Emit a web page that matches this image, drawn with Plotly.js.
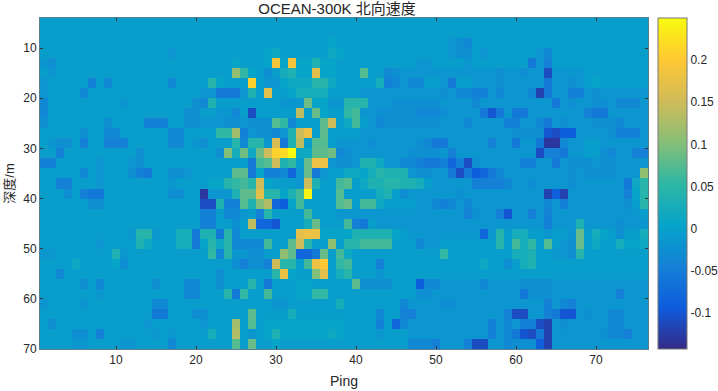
<!DOCTYPE html>
<html><head><meta charset="utf-8">
<script src="https://cdn.plot.ly/plotly-3.0.1.min.js"></script>
<style>html,body{margin:0;padding:0;background:#fff}#c{width:718px;height:391px}</style>
</head><body><div id="c"></div>
<script>
const pings=[];for(let i=1;i<=76;i++)pings.push(i);
const depths=[5,7,9,11,13,15,17,19,21,23,25,27,29,31,33,35,37,39,41,43,45,47,49,51,53,55,57,59,61,63,65,67,69];
// velocity in hundredths of m/s: one row per depth bin
const velocityRows=[
[-2,-2,-2,-2,-2,-2,-2,-2,-2,-2, -2,-2,-2,-2,-2,-2,-2,-2,-2,-2, -2,-2,-2,-2,-2,-2,-2,-2,-2,-2, -2,-2,-2,-2,-2,-2,-2,-2,-2,-2, -2,-2,-2,-2,-2,-2,-2,-2,-2,-2, -2,-2,-2,-2,-2,-2,-2,-2,-2,-2, -2,-2,-2,-2,-2,-2,-2,-2,-2,-2, -2,-2,-2,-2,-2,-2],
[-2,-2,-2,-2,-2,-2,-2,-2,-2,-2, -2,-2,-2,-2,-2,-2,-2,-2,-2,-2, -2,-2,-2,-2,-2,-2,-2,-2,-2,-2, -2,-2,-2,-2,-2,-2,-2,-2,-2,-2, -2,-2,-2,-2,-2,-2,-2,-2,-2,-2, -2,-2,-2,-2,-2,-2,-2,-2,-2,-2, -2,-2,-2,-2,-2,-2,-2,-2,-2,-2, -2,-2,-2,-2,-2,-2],
[-2,-2,-2,-2,-2,-2,-2,-2,-2,-2, -2,-2,-2,-2,-2,-2,-2,-2,-2,-2, -2,-2,-2,-2,-2,-2,-2,-2,-2,-2, -2,-2,-2,-2,-2,-2,-1,-2,-2,-2, -2,-2,-2,-2,-2,-2,-2,-2,-2,-2, -2,-3,-4,-5,-2,-2,-2,-2,-2,-2, -2,-2,-2,-2,-2,-2,-2,-2,-2,-2, -2,-2,-2,-2,-2,-2],
[-2,-2,-2,-2,-2,-2,-2,-2,-2,-2, -2,-2,-2,-2,-2,-2,-3,-2,-2,-2, -2,-2,-2,-2,-2,-2,-2,-2,-1,0, -2,-2,-2,-2,-2,-2,0,-1,-2,-2, -2,-2,-2,-2,-2,-2,-2,-2,-2,-2, -2,-3,-4,-4,-2,-3,-2,-2,-2,-2, -2,-2,-3,-5,-2,-2,-2,-2,-2,-2, -2,-2,-2,-2,-2,-2],
[-3,-4,-2,-2,-2,-2,-2,-2,-2,-2, -2,-2,-2,-2,-2,-2,-2,-2,-2,-2, -2,-2,-2,-2,-1,-2,-2,-2,-1,19, -1,19,-1,-1,2,-1,-1,-2,-2,-2, -2,-2,-2,-2,-2,-2,-2,-3,-3,-2, -2,-2,-2,-3,-2,-2,-2,-2,-2,-2, -2,-7,-3,-6,-2,-2,-2,-2,-2,-2, -2,-2,-2,-2,-2,-2],
[-2,-3,-2,-2,-2,-2,-2,-2,-2,-2, -2,-2,-2,-2,-2,-2,-2,-2,-2,-2, -2,-2,-2,-2,11,4,-1,-2,-4,-2, 1,2,-1,-1,17,-1,-1,-2,-2,-2, 6,-2,-2,-5,-4,-3,-3,-3,-3,-3, -3,-3,-3,-3,-3,-3,-3,-4,-3,-3, -4,-3,-3,-11,-3,-3,-3,-3,-2,-2, -2,-2,-2,-2,-2,-2],
[-3,-2,-2,-2,-2,-2,-6,-2,-5,-2, -2,-2,-2,-2,-2,-2,-5,-2,-2,-2, -2,3,-1,-2,-2,-2,21,-2,-3,-3, -1,0,0,0,3,3,0,-2,-2,-2, -2,-2,1,-6,-5,-3,-5,-5,-2,-2, -3,-7,-2,-2,-3,-3,-3,-4,-3,-3, -3,-3,-3,-7,-3,-3,-4,-3,-2,-1, -2,-2,-2,-2,-2,-2],
[-3,-2,-2,-2,-2,-5,-2,-2,-2,-2, -2,-2,-2,-2,-2,-2,-2,-2,-2,-2, -3,-3,-7,-7,-7,-3,2,-2,17,-2, -2,-1,1,1,1,1,-2,-2,-2,-2, -3,-3,-3,-3,-3,-3,-3,-3,-3,-3, -4,-3,-5,-5,-6,-6,-3,-5,-3,-3, -3,-5,-12,-7,-3,-3,-6,-6,-3,-4, -3,-3,-3,-3,-3,-3],
[-5,-2,-2,-2,-2,-2,-2,-2,-2,-2, -3,-2,-2,-2,-2,-2,-2,-2,-2,-4, -5,2,-2,-2,-2,-2,-2,-2,-2,-2, -3,-3,-3,9,-1,-1,-3,-3,3,3, 3,-3,-3,-3,-4,-4,-4,-4,-4,-4, -3,-3,-3,-3,-5,-3,-3,-3,-3,-3, -3,-3,-3,-3,-7,-3,-4,-3,-3,-4, -4,-3,-5,-5,-5,-3],
[-5,-2,-2,-2,-2,-2,-2,-2,-2,-2, -2,-2,-2,-2,-2,-2,-2,-2,-4,-4, -2,-2,-3,-3,-5,-2,-11,-2,-2,-2, -2,-2,14,-2,7,-1,-2,-2,4,5, -3,-3,-4,-4,-4,-4,-4,-5,-5,-5, -4,-3,-3,-3,-3,-7,-10,-7,-3,-7, -7,-3,-3,-3,-3,-3,-3,-3,-6,-7, -7,-3,-3,-3,-3,-3],
[-4,-2,-2,-2,-2,-2,-2,-2,-4,-2, -2,-2,-2,-6,-6,-6,-2,-2,-4,-4, -3,-3,-3,-4,-4,-3,-4,-4,-4,6, 4,-5,-2,-2,-2,8,15,-2,0,5, -2,-3,-5,-4,-4,-4,-4,-4,-4,-4, -3,-3,-3,-5,-3,-3,-3,-3,-6,-6, -3,-3,-5,-7,-3,-4,-3,-3,-3,-4, -4,-4,-5,-3,-3,-3],
[-2,-2,-2,-2,-2,-4,-2,-2,-5,-5, -2,-2,-2,-2,-2,-2,-5,-5,-2,-2, -2,-2,4,4,12,-6,-3,-4,-4,-5, -3,2,15,18,-2,8,-2,-2,-2,-2, -3,-3,-3,-3,-3,-3,-3,-3,-3,-3, -3,-3,-3,-3,-3,-3,-3,-3,-3,-4, -4,-4,-4,-10,-11,-9,-9,-3,-3,-3, -3,-4,-6,-6,-6,-3],
[-2,-3,-4,-4,-2,-6,-2,-2,-6,-6, -6,-2,-2,-2,-2,-2,-5,-5,-2,-3, -4,-2,-2,-2,3,-5,3,3,-3,16, -7,2,14,-2,6,6,-2,-3,-3,-3, -3,-4,-3,-3,-3,-3,-3,-4,-5,-7, -7,-3,-3,-3,-3,-3,-6,-3,-3,-7, -3,-3,-7,-13,-13,-5,-3,-3,-2,-2, -3,-3,-3,-3,-3,-3],
[-2,-2,-6,-2,-2,-2,-2,-2,-2,-2, -2,-2,-4,-2,-2,-2,-2,-2,-2,-2, -2,-2,-4,10,1,9,0,9,15,21, 22,25,0,0,8,8,9,-5,-4,-3, -3,-3,-3,-3,-3,-3,-4,-4,-4,-4, -3,-6,-3,-3,-3,-3,-3,-3,-3,-3, -3,-3,-11,-6,-6,-7,-3,-3,-2,-2, -4,-5,-3,-3,-6,-6],
[-6,-6,-2,-2,-2,-2,-2,-3,-2,-2, -2,-3,-4,-2,-2,-2,-2,-2,-2,-2, -2,-2,-2,-2,-2,-2,-7,5,6,15, 2,4,-2,7,18,18,-3,-4,-4,-3, 2,2,0,-3,-3,-5,-5,-6,-7,-7, -6,-8,-6,-11,-4,-3,-3,-3,-3,-3, -6,-6,-3,-3,-7,-3,-4,-4,-4,-3, -4,-4,-3,-3,-3,-3],
[-2,-2,-2,-2,-2,-5,-2,-3,-2,-2, -2,-4,-6,-7,-2,-2,-4,-4,-3,-2, -2,-2,-2,-2,8,8,-7,-1,-6,-6, -5,-8,-3,7,-7,-3,-2,-2,0,0, -1,1,3,2,2,2,-3,-4,-4,-3, -3,-7,-11,-7,-9,-8,-7,-5,-3,-3, -3,-3,-3,-3,-3,-3,-4,-3,-4,-4, -4,-4,-3,-3,-3,11],
[-2,-2,-6,-6,-2,-2,-2,-3,-2,-2, -2,-2,-2,-2,-2,-2,-3,-2,-2,-2, -2,-1,-1,3,4,5,3,15,-1,-2, -2,-2,-3,15,2,-2,-2,5,6,-2, 0,2,2,3,3,2,2,1,-2,-3, -3,-3,-3,-3,-6,-6,-6,-6,-5,-3, -3,-4,-3,-3,-3,-3,-4,-3,-3,-3, -3,-3,-3,-7,0,3],
[-2,-2,-2,-4,-2,-6,-7,-7,-2,-2, -2,-2,-2,-2,-2,-2,-4,-4,-2,-2, -13,-3,-3,-3,2,8,8,17,3,3, -1,2,5,24,-2,-2,-2,6,-2,-2, -2,-2,1,2,-2,-4,-3,-3,-3,-3, -3,-3,-4,-3,-3,-3,-3,-3,-3,-3, -3,-3,-3,-12,-9,-12,-3,-3,-3,-3, -3,-3,-3,-6,-1,3],
[-2,-2,-2,-2,-2,-2,-4,-4,-2,-2, -2,-2,-2,-2,-2,-2,-2,-2,-2,-2, -11,-11,2,-6,-6,6,2,10,13,-8, -9,-1,5,-2,-2,-2,-2,6,7,-2, 5,5,0,-2,-2,-2,-2,-3,-3,-5, -6,-5,-3,-5,-3,-3,-3,-3,-3,-3, -3,-3,-3,-5,-3,-6,-3,-3,-3,-3, -3,-3,-3,-4,-2,3],
[-2,-2,-2,-2,-2,-2,-2,-2,-2,-2, -2,-2,-2,-2,-2,-2,-2,-2,-2,-2, -6,-6,-2,-5,-5,-3,-2,-6,3,-2, -2,-2,-2,5,-2,-2,-2,-3,-3,-3, -3,-3,-3,-3,-3,-3,-3,-3,-3,-3, -3,-3,-3,-6,-4,-3,-3,-6,-10,-3, -3,-6,-3,-6,-3,-3,-3,-3,-3,-3, -3,-3,-3,-3,-3,-2],
[-2,-2,-2,-2,-2,-2,-2,-2,-2,-2, -2,-2,-2,-2,-2,-2,-2,-2,-2,-2, -6,-6,-2,-2,-4,-2,14,-8,-8,-10, -2,-2,-2,1,7,-2,-2,-2,5,-6, -7,-2,-3,-3,-3,-3,-3,-3,-3,-3, -3,-3,-3,-3,-3,-3,-3,-3,-3,-3, -3,-3,-3,-6,-3,-3,-3,2,-3,-3, -3,-3,-4,-3,-3,-3],
[-2,-2,-2,-2,-2,-2,-2,-2,-2,-2, -2,-3,3,3,-3,-2,-2,1,1,-7, 2,2,-7,3,-5,-2,-2,-2,-2,-2, -2,-2,17,18,18,-1,-1,-1,-1,2, 2,2,2,2,-1,-2,-3,-3,-3,-3, -3,-3,-3,-3,-3,-8,-3,3,-2,1, 1,-2,-2,-3,-2,-2,-3,7,-2,1, -1,-2,-4,-2,-2,1],
[-2,-2,-2,-2,-2,-2,-2,-3,-2,-2, -2,-2,2,0,-2,-2,-2,1,1,-7, -1,3,0,3,-5,-5,-5,-5,5,-2, -2,8,15,3,-2,-2,11,-2,3,3, 5,5,5,5,-2,-2,-2,-5,-3,-3, -2,-2,-2,-2,-2,-2,-2,3,-2,5, 1,4,-2,6,-2,-3,-4,7,-2,0, -2,-2,1,-1,-1,0],
[-3,-3,-2,-2,-2,-2,-2,-2,-2,2, -3,-2,-2,-2,-2,-2,-2,-2,-2,-2, -2,4,-5,3,-3,-3,-4,-4,-2,-2, 11,8,-8,-8,-7,7,-2,5,0,-2, -2,-2,-2,-2,-2,-2,-2,-2,-2,-2, 4,-2,-2,-2,-2,-2,-2,-2,-2,1, 1,2,-2,-2,-3,-3,-4,3,-2,-2, -2,-2,-2,-2,-2,-2],
[-2,-2,-2,-2,0,-2,-2,-2,-2,-1, -4,-2,-2,-2,-2,-2,-2,-2,-2,-2, -2,-2,-2,-2,-4,-6,-4,-4,-6,15, 3,3,-2,5,18,20,-2,4,5,-2, -2,-2,-6,-2,-2,-2,-2,-2,-2,-2, -2,-2,-2,-2,-2,0,-2,-2,-4,-2, 1,2,-2,-2,-2,-2,-2,-2,-2,-2, -2,-2,-2,-2,-2,-2],
[-2,-2,-5,-2,-2,-2,-2,-2,-2,-2, -2,-2,-2,-2,-2,-2,-2,-2,-2,-2, -2,-2,-4,-2,-2,-2,-2,-2,-2,3, 18,-1,-2,-2,10,17,-2,1,3,-2, -2,-2,-3,-2,-2,-2,-2,-2,-2,-2, -2,-2,-2,-2,-2,-2,-2,-2,-2,-2, -2,-2,-2,-2,-2,-2,-2,-2,-2,-2, -2,-2,-2,-2,-2,-2],
[-2,-2,-2,-2,-2,-4,-2,-5,-2,-2, -2,-2,-2,-2,-4,-2,-2,-2,-5,-5, -2,-2,-4,-2,-2,-2,3,-2,-7,-2, -2,-2,-1,-1,-2,-2,-2,-2,-2,8, -4,-4,-4,-4,-2,-2,-2,-9,-5,-5, -3,-3,-3,-3,-3,-5,-3,-3,-3,-3, -4,-4,-4,-4,-3,-3,-3,-3,-3,-3, -3,-3,-3,-3,-3,-3],
[-2,-2,-2,-2,-2,-2,-2,-3,-2,-2, -2,-2,-2,-2,-2,-2,-2,-2,-5,-5, -2,-2,-2,3,-7,4,-2,-2,5,-2, -2,-2,-1,-1,4,4,-2,-2,-2,-2, -2,-2,-2,-2,-2,-2,-2,-4,-4,-3, -3,-3,-3,-3,-3,-3,-3,-3,-3,-3, -7,-4,-4,-4,-3,-3,-3,-3,-3,-3, -3,-3,-6,-3,-3,-3],
[-3,-2,-2,-2,-2,-3,-2,-2,-2,-2, -2,-2,-2,-2,-5,-5,-2,-2,-2,-2, -2,-2,-2,-2,-2,-2,-2,-2,-2,-3, -3,-2,-2,-2,-2,-2,-2,1,-2,-2, -2,-2,-2,-2,-2,-5,-3,-3,-3,-3, -4,-4,-3,-3,-3,-3,-3,-3,-3,-3, -3,-3,-3,-6,-3,-5,-6,-3,-3,-3, -3,-3,-3,-3,-3,-3],
[-2,-2,-2,-2,-2,-2,-2,-2,-2,-2, -2,-2,-2,-2,-7,-7,-2,-2,-2,-4, -4,-2,-2,-2,-2,-2,8,-2,-2,-2, -2,1,-2,-2,-2,-2,-2,-2,-2,-2, -2,-2,-5,-2,-2,-6,-6,-3,-3,-3, -3,-3,-3,-3,-3,-3,-3,-3,-6,-11, -11,-3,-3,-6,-7,-10,-10,-3,-4,-3, -3,-5,-5,-3,-3,-3],
[-2,-4,-2,-2,-2,-2,-2,-2,-2,-2, -2,-2,-2,-3,-2,-2,-2,-2,-2,-2, -3,-2,-2,-2,12,-2,6,-2,-1,-1, -1,-1,-1,-1,-1,-1,-1,-1,-2,-2, -2,-2,-6,-2,-8,-5,-3,-3,-3,-3, -3,-3,-3,-3,-3,-3,-6,-3,-5,-3, -6,-6,-11,-12,-3,-4,-3,-3,-3,-3, -3,-5,-5,-3,-3,-3],
[-2,-2,-2,-2,-4,-4,-2,-6,-2,-2, -2,-2,-2,-2,-3,-2,-3,-2,-2,-2, -2,1,-2,-2,13,-2,-3,-2,-1,2, -1,-1,-1,-1,-1,-1,0,-1,-2,-2, -2,-2,-3,-2,-2,-2,-3,-3,-3,-3, -3,-3,-3,-3,-3,-3,-6,-3,-5,-7, -10,-11,-7,-12,-3,-3,-3,-3,-3,-3, -4,-5,-5,-6,-3,-3],
[-2,-2,-2,-2,-3,-3,-2,-2,-2,-2, -3,-3,-2,-2,-2,-2,-5,-2,-2,-2, -2,-2,-2,-2,6,-2,7,-2,-2,-1, -2,-2,-2,-2,-2,-2,-2,-2,-2,-2, -2,-2,-2,-2,-2,-2,-5,-5,-5,-6, -3,-3,-3,-6,-11,-11,-3,-3,-5,-4, -4,-4,-9,-12,-3,-3,-3,-3,-3,-3, -3,-3,-3,-3,-3,-3]
];
const parula=['#352a87','#0f5cdd','#1481d6','#06a4ca','#2eb7a4','#87bf77','#d1bb59','#fec832','#f9fb0e'];
const xTicks=[10,20,30,40,50,60,70];
const yTicks=[10,20,30,40,50,60,70];
const barTicks=[-0.1,-0.05,0,0.05,0.1,0.15,0.2];
const barLabels=['-0.1','-0.05','0','0.05','0.1','0.15','0.2'];
// small readings sat about 0.015 too low against the reference colours
const readingOffset=1.5;
const z=velocityRows.map(r=>r.map(v=>((v>-8&&v<8)?v+readingOffset:v)/100));
const F='"Liberation Sans",Arial,"Noto Sans CJK SC",sans-serif';
const scale=parula.map((c,i)=>[i/(parula.length-1),c]);
Plotly.newPlot('c',[{type:'heatmap',x:pings,y:depths,z:z,zmin:-0.143,zmax:0.25,colorscale:scale,zsmooth:false,
 colorbar:{x:1.0164,xanchor:'left',y:0,yanchor:'bottom',len:1,lenmode:'fraction',thickness:29,thicknessmode:'pixels',
 xpad:0,ypad:0,outlinecolor:'#777',outlinewidth:1,tickvals:barTicks,ticktext:barLabels,ticks:'',ticklen:0,tickfont:{family:F,size:12,color:'#262626'}},
 hoverinfo:'skip'}],{
 width:718,height:391,margin:{l:40,r:70,t:18,b:42,autoexpand:false},paper_bgcolor:'#fff',plot_bgcolor:'#fff',
 title:{text:'OCEAN-300K 北向速度',font:{family:F,size:15,color:'#262626'},x:0.4694,xanchor:'center',y:0.99,yanchor:'top',pad:{t:0,b:0}},
 xaxis:{range:[0.5,76.5],tickvals:xTicks,ticks:'inside',ticklen:3,tickcolor:'#333',showline:true,linecolor:'#5a7f8f',linewidth:1,mirror:'ticks',showgrid:false,zeroline:false,
  tickfont:{family:F,size:12,color:'#262626'},title:{text:'Ping',font:{family:F,size:14,color:'#262626'},standoff:9}},
 yaxis:{range:[70,4],tickvals:yTicks,ticks:'inside',ticklen:3,tickcolor:'#333',showline:true,linecolor:'#5a7f8f',linewidth:1,mirror:'ticks',showgrid:false,zeroline:false,
  tickfont:{family:F,size:12,color:'#262626'},title:{text:'深度/m',font:{family:F,size:13,color:'#262626'},standoff:5}}
},{staticPlot:true,displayModeBar:false});
</script></body></html>
